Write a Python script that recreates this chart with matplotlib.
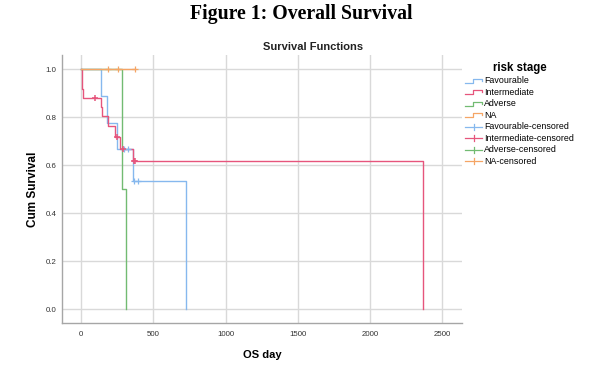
import matplotlib
matplotlib.use("Agg")
import matplotlib.pyplot as plt
from matplotlib.lines import Line2D
from matplotlib.legend_handler import HandlerBase

# ---- data ----
fav_t    = [0, 140, 176, 248, 360, 725]
fav_s    = [1.0, 0.889, 0.778, 0.667, 0.533, 0.0]
fav_ct   = [297, 325, 366, 394]
fav_cs   = [0.667, 0.667, 0.533, 0.533]

int_t    = [0, 3, 6, 10, 136, 146, 187, 237, 266, 360, 2369]
int_s    = [1.0, 0.96, 0.92, 0.88, 0.843, 0.805, 0.762, 0.72, 0.67, 0.62, 0.0]
int_ct   = [95, 251, 290, 366, 370]
int_cs   = [0.88, 0.72, 0.67, 0.62, 0.62]

adv_t    = [0, 281, 308]
adv_s    = [1.0, 0.5, 0.0]

na_t     = [0, 373]
na_s     = [1.0, 1.0]
na_ct    = [188, 252, 372]
na_cs    = [1.0, 1.0, 1.0]

x_ticks  = [0, 500, 1000, 1500, 2000, 2500]
y_ticks  = [0.0, 0.2, 0.4, 0.6, 0.8, 1.0]

C_FAV = '#86b8ee'
C_INT = '#e6557c'
C_ADV = '#72bb72'
C_NA  = '#f5a565'


class StepHandler(HandlerBase):
    """Little step glyph like the SPSS legend."""
    def create_artists(self, legend, orig, xd, yd, w, h, fs, trans):
        xs = [xd, xd + 0.45 * w, xd + 0.45 * w, xd + w, xd + w]
        ys = [yd + 0.15 * h, yd + 0.15 * h, yd + 0.85 * h, yd + 0.85 * h, yd + 0.45 * h]
        return [Line2D(xs, ys, color=orig.get_color(), lw=0.9, transform=trans)]


class CrossHandler(HandlerBase):
    """Censor glyph: long horizontal bar with a tick in the middle."""
    def create_artists(self, legend, orig, xd, yd, w, h, fs, trans):
        c = orig.get_color()
        hz = Line2D([xd, xd + w], [yd + 0.5 * h] * 2, color=c, lw=0.9, transform=trans)
        vt = Line2D([xd + 0.5 * w] * 2, [yd - 0.05 * h, yd + 1.05 * h], color=c, lw=0.9, transform=trans)
        return [hz, vt]


fig = plt.figure(figsize=(6.02, 3.77), dpi=100)
fig.patch.set_facecolor('white')
ax = fig.add_axes([0.103, 0.143, 0.664, 0.711])

fig.text(0.5, 0.962, "Figure 1: Overall Survival", ha='center', va='center',
         family='Liberation Serif', fontweight='bold', fontsize=14.2)
fig.text(313 / 602, 1 - 47 / 377, "Survival Functions", ha='center', va='center',
         family='Liberation Sans', fontweight='bold', fontsize=8, color='#222222')

for v in x_ticks:
    ax.axvline(v, color='#d9d9d9', lw=1.0, zorder=0)
for v in y_ticks:
    ax.axhline(v, color='#d9d9d9', lw=1.0, zorder=0)

lw = 1.0
l_fav, = ax.step(fav_t, fav_s, where='post', color=C_FAV, lw=lw, label='Favourable')
l_int, = ax.step(int_t, int_s, where='post', color=C_INT, lw=lw, label='Intermediate')
l_adv, = ax.step(adv_t, adv_s, where='post', color=C_ADV, lw=lw, label='Adverse')
l_na,  = ax.step(na_t, na_s, where='post', color=C_NA, lw=lw, label='NA')

ms = 5
c_fav, = ax.plot(fav_ct, fav_cs, ls='none', marker='+', ms=ms, mew=0.9, color=C_FAV, label='Favourable-censored')
c_int, = ax.plot(int_ct, int_cs, ls='none', marker='+', ms=ms, mew=1.1, color=C_INT, label='Intermediate-censored')
c_adv, = ax.plot([], [], ls='none', marker='+', ms=ms, mew=0.9, color=C_ADV, label='Adverse-censored')
c_na,  = ax.plot(na_ct, na_cs, ls='none', marker='+', ms=ms, mew=0.9, color=C_NA, label='NA-censored')

ax.set_xlim(-133, 2634)
ax.set_ylim(-0.058, 1.06)
ax.set_xticks(x_ticks)
ax.set_yticks(y_ticks)
ax.set_yticklabels([f"{v:.1f}" for v in y_ticks])
ax.tick_params(axis='x', length=0, labelsize=5.7, labelcolor='#333333', pad=6)
ax.tick_params(axis='y', length=0, labelsize=5.7, labelcolor='#333333', pad=4)
for lab in ax.get_xticklabels() + ax.get_yticklabels():
    lab.set_family('Liberation Sans')

for s in ('top', 'right'):
    ax.spines[s].set_visible(False)
for s in ('left', 'bottom'):
    ax.spines[s].set_color('#a6a6a6')
    ax.spines[s].set_linewidth(1.0)

ax.set_xlabel("OS day", family='Liberation Sans', fontweight='bold', fontsize=8, labelpad=8)
ax.set_ylabel("Cum Survival", family='Liberation Sans', fontweight='bold', fontsize=8.5, labelpad=5)

handles = [l_fav, l_int, l_adv, l_na, c_fav, c_int, c_adv, c_na]
hmap = {h: StepHandler() for h in (l_fav, l_int, l_adv, l_na)}
hmap.update({h: CrossHandler() for h in (c_fav, c_int, c_adv, c_na)})
leg = ax.legend(handles=handles, handler_map=hmap, title="risk stage",
                loc='upper left', bbox_to_anchor=(0.995, 0.995), frameon=False,
                prop={'family': 'Liberation Sans', 'size': 6.4}, handlelength=1.9,
                handleheight=0.6, handletextpad=0.25, labelspacing=0.28, borderaxespad=0.2)
leg.get_title().set_fontweight('bold')
leg.get_title().set_fontsize(8.3)
leg.get_title().set_family('Liberation Sans')

fig.savefig("out.png", dpi=100, facecolor='white')
